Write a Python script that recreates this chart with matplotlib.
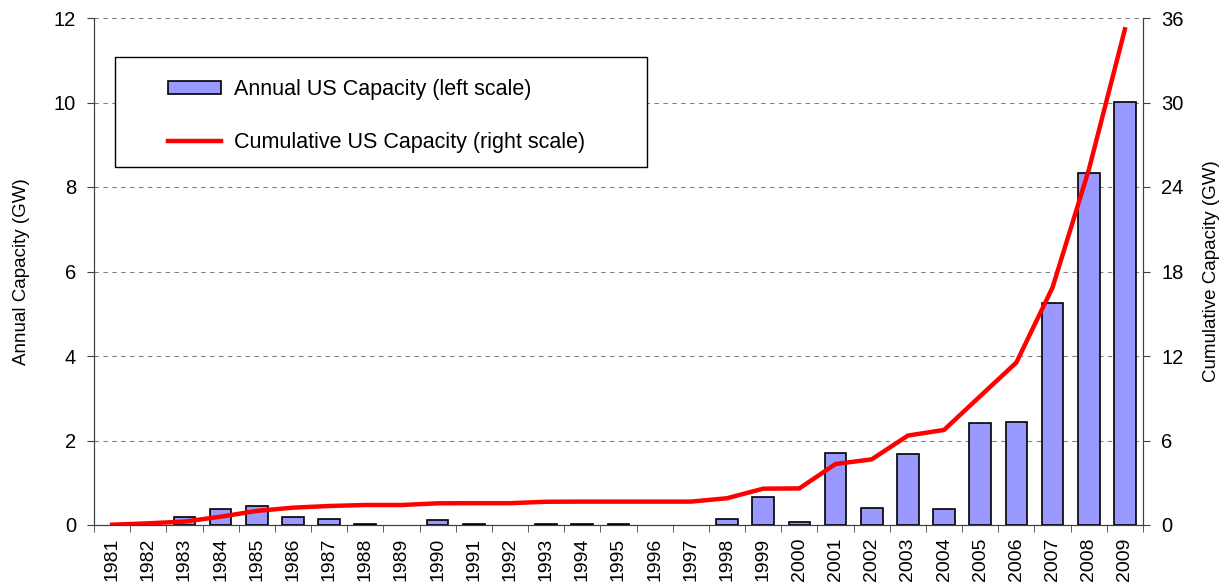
import matplotlib
matplotlib.use("Agg")
import matplotlib.pyplot as plt
from matplotlib.patches import Rectangle, Patch

plt.rcParams['font.family'] = ['Liberation Sans', 'DejaVu Sans']

years = [str(y) for y in range(1981, 2010)]
annual = [0.0, 0.01, 0.19, 0.37, 0.44, 0.19, 0.15, 0.03, 0.0, 0.11,
          0.03, 0.0, 0.03, 0.03, 0.03, 0.0, 0.0, 0.15, 0.66, 0.07,
          1.70, 0.41, 1.68, 0.37, 2.41, 2.44, 5.25, 8.34, 10.02]
cumulative = [0.02, 0.12, 0.24, 0.59, 1.0, 1.23, 1.35, 1.42, 1.42, 1.54,
              1.55, 1.55, 1.65, 1.66, 1.66, 1.66, 1.66, 1.9, 2.58, 2.6,
              4.33, 4.66, 6.35, 6.75, 9.15, 11.54, 16.87, 25.2, 35.2]

W, H = 1226, 583
fig = plt.figure(figsize=(W / 100, H / 100), dpi=100)
ax = fig.add_axes([94 / W, 1 - 525 / H, (1143 - 94) / W, (525 - 18) / H])
ax2 = ax.twinx()

x = list(range(len(years)))
bars = ax.bar(x, annual, width=0.6, color='#9999FF', edgecolor='black',
              linewidth=1.2, zorder=3)
# empty years show no outline
for b, v in zip(bars, annual):
    if v == 0:
        b.set_edgecolor('none')
line, = ax2.plot(x, cumulative, color='#FF0000', linewidth=3.2)

ax.set_xlim(-0.5, len(years) - 0.5)
ax.set_ylim(0, 12)
ax.set_yticks(range(0, 13, 2))
ax2.set_ylim(0, 36)
ax2.set_yticks(range(0, 37, 6))

for yv in range(2, 13, 2):
    ax.axhline(yv, color='#808080', linestyle=(0, (4, 4)), linewidth=0.8, zorder=1)

ax.set_xticks(x)
ax.set_xticklabels(years, rotation=90, fontsize=14)
ax.set_xticks([i - 0.5 for i in range(len(years) + 1)], minor=True)
ax.tick_params(axis='x', which='major', length=0, pad=9)
ax.tick_params(axis='x', which='minor', length=5, direction='out', color='#404040')
ax.tick_params(axis='y', labelsize=14.5, length=5, pad=8, direction='out', color='#404040')
ax2.tick_params(axis='y', labelsize=14.5, length=5, pad=8, direction='out', color='#404040')

for a in (ax, ax2):
    a.spines['top'].set_visible(False)
    for s in ('left', 'right', 'bottom'):
        a.spines[s].set_color('#404040')

ax.set_ylabel('Annual Capacity (GW)', fontsize=13.5, labelpad=17)
ax2.set_ylabel('Cumulative Capacity (GW)', fontsize=13.5, rotation=90, labelpad=14)

# legend box
box = Rectangle((115 / W, 1 - 167 / H), 532 / W, 110 / H, transform=fig.transFigure,
                facecolor='white', edgecolor='black', linewidth=1, zorder=4)
fig.patches.append(box)
bar_handle = Patch(facecolor='#9999FF', edgecolor='black', linewidth=1.2)
fig.legend([bar_handle, line],
           ['Annual US Capacity (left scale)', 'Cumulative US Capacity (right scale)'],
           loc='upper left', bbox_to_anchor=(168 / W, 1 - 79 / H),
           bbox_transform=fig.transFigure, frameon=False, fontsize=15.5,
           borderpad=0, borderaxespad=0, handlelength=2.45, handletextpad=0.6,
           handleheight=0.6, labelspacing=1.5)

fig.savefig('out.png', dpi=100)
